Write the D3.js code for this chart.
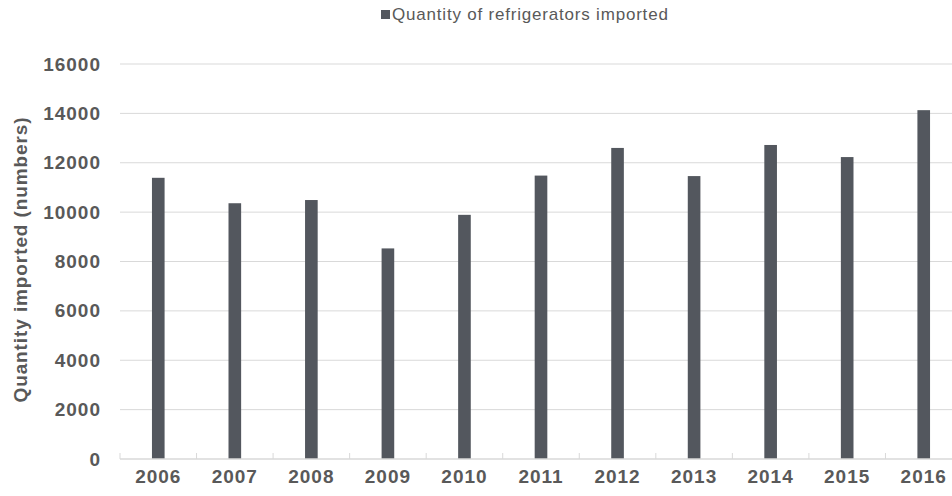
<!DOCTYPE html>
<html>
<head>
<meta charset="utf-8">
<script src="https://cdn.jsdelivr.net/npm/d3@7"></script>
<style>
  html, body { margin: 0; padding: 0; background: #fff; }
  #chart { width: 952px; height: 496px; overflow: hidden; }
  text { font-family: "Liberation Sans", Arial, sans-serif; }
</style>
</head>
<body>
<div id="chart"></div>
<script>
const years = ["2006", "2007", "2008", "2009", "2010", "2011", "2012", "2013", "2014", "2015", "2016"];
const imported = [11390, 10360, 10490, 8530, 9890, 11480, 12600, 11460, 12720, 12230, 14130];
const yTicks = [0, 2000, 4000, 6000, 8000, 10000, 12000, 14000, 16000];
const seriesName = "Quantity of refrigerators imported";

const width = 952, height = 496;
const margin = { top: 64, right: -10, bottom: 37, left: 120 };
const innerWidth = width - margin.left - margin.right;
const innerHeight = height - margin.top - margin.bottom;

const barColor = "#53575e";
const textColor = "#595959";
const gridColor = "#d9d9d9";

const svg = d3.select("#chart")
    .append("svg")
    .attr("width", width)
    .attr("height", height);

const g = svg.append("g")
    .attr("transform", `translate(${margin.left}, ${margin.top})`);

const xScale = d3.scaleBand()
    .domain(years)
    .range([0, innerWidth])
    .paddingInner(0.835)
    .paddingOuter(0.4175);

const yScale = d3.scaleLinear()
    .domain([0, 16000])
    .range([innerHeight, 0]);

// gridlines
g.append("g")
    .selectAll("line")
    .data(yTicks.filter(d => d > 0))
    .join("line")
    .attr("x1", 0)
    .attr("x2", innerWidth)
    .attr("y1", d => yScale(d))
    .attr("y2", d => yScale(d))
    .attr("stroke", gridColor)
    .attr("stroke-width", 1);

// y axis labels
const yAxis = d3.axisLeft(yScale)
    .tickValues(yTicks)
    .tickFormat(d3.format("d"))
    .tickSize(0)
    .tickPadding(19);
g.append("g")
    .call(yAxis)
    .call(a => a.select(".domain").remove())
    .selectAll("text")
    .attr("fill", textColor)
    .attr("font-size", 19)
    .attr("font-weight", "bold")
    .attr("letter-spacing", 1);

// bars
g.append("g")
    .selectAll("rect")
    .data(imported)
    .join("rect")
    .attr("x", (d, i) => xScale(years[i]))
    .attr("width", xScale.bandwidth())
    .attr("y", d => yScale(d))
    .attr("height", d => innerHeight - yScale(d))
    .attr("fill", barColor);

// x axis
const step = xScale.step();
const xAxis = g.append("g").attr("transform", `translate(0, ${innerHeight})`);
xAxis.append("line")
    .attr("x1", 0).attr("x2", innerWidth)
    .attr("stroke", gridColor).attr("stroke-width", 1.5);
xAxis.selectAll(".tick-mark")
    .data(d3.range(years.length + 1))
    .join("line")
    .attr("class", "tick-mark")
    .attr("x1", i => i * step).attr("x2", i => i * step)
    .attr("y1", 0).attr("y2", -6)
    .attr("stroke", gridColor).attr("stroke-width", 1);
xAxis.selectAll(".x-label")
    .data(years)
    .join("text")
    .attr("class", "x-label")
    .attr("x", d => xScale(d) + xScale.bandwidth() / 2)
    .attr("y", 24)
    .attr("text-anchor", "middle")
    .attr("fill", textColor)
    .attr("font-size", 19)
    .attr("font-weight", "bold")
    .attr("letter-spacing", 1)
    .text(d => d);

// y axis title
svg.append("text")
    .attr("transform", `translate(27, ${margin.top + innerHeight / 2 - 2}) rotate(-90)`)
    .attr("text-anchor", "middle")
    .attr("fill", textColor)
    .attr("font-size", 19)
    .attr("font-weight", "bold")
    .attr("letter-spacing", 0.9)
    .text("Quantity imported (numbers)");

// legend
const legend = svg.append("g").attr("transform", "translate(381, 10)");
legend.append("rect")
    .attr("width", 9).attr("height", 9)
    .attr("fill", barColor);
legend.append("text")
    .attr("x", 11)
    .attr("y", 9.5)
    .attr("fill", textColor)
    .attr("font-size", 17)
    .attr("letter-spacing", 0.8)
    .text(seriesName);
</script>
</body>
</html>
